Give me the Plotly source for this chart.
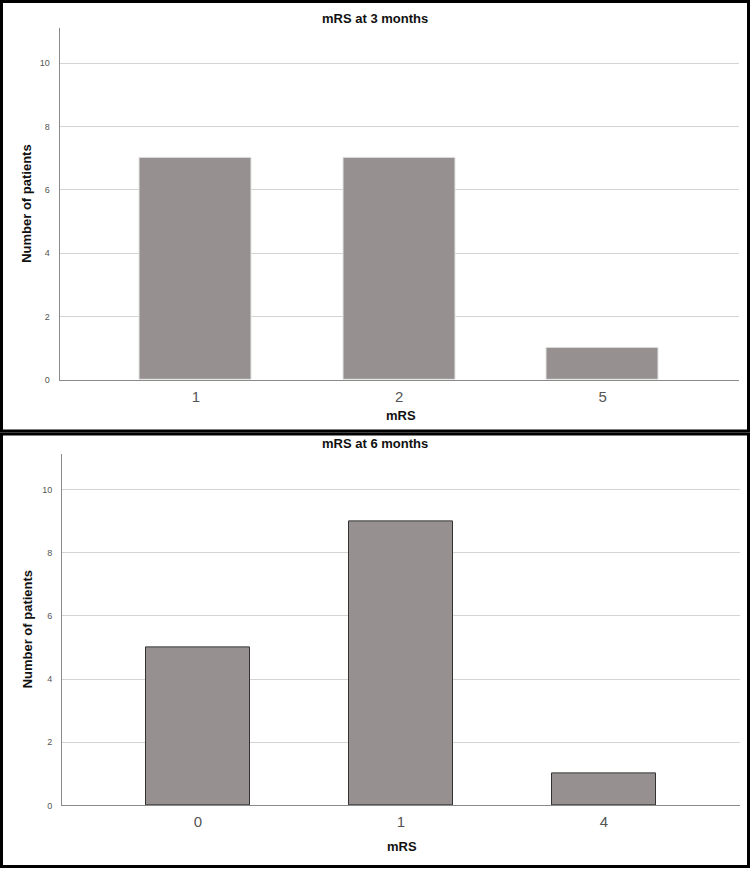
import plotly.graph_objects as go

W, H = 750, 873

cats_3m = ["1", "2", "5"]
vals_3m = [7, 7, 1]
cats_6m = ["0", "1", "4"]
vals_6m = [5, 9, 1]
y_ticks = [0, 2, 4, 6, 8, 10]

bar_color = "#969190"

def px_x(p):
    return p / W

def px_y(p):
    return 1 - p / H

fig = go.Figure()
fig.add_trace(go.Bar(x=cats_3m, y=vals_3m, xaxis="x", yaxis="y", width=0.55,
                     marker=dict(color=bar_color, line=dict(color="#e4e4e4", width=1)),
                     showlegend=False))
fig.add_trace(go.Bar(x=cats_6m, y=vals_6m, xaxis="x2", yaxis="y2", width=0.51,
                     marker=dict(color=bar_color, line=dict(color="#333333", width=1)),
                     showlegend=False))

axis_common_y = dict(range=[0, 11.12], tickvals=y_ticks, showgrid=True, gridcolor="#d4d4d4",
                     gridwidth=1, showline=True, linecolor="#8a8a8a", linewidth=1,
                     zeroline=False, ticks="",
                     tickfont=dict(family="Liberation Sans Narrow, Liberation Sans", size=9, color="#555"),
                     ticklabelstandoff=7)
axis_common_x = dict(range=[-0.67, 2.67], type="category", showline=True, linecolor="#8a8a8a",
                     linewidth=1, showgrid=False, ticks="", ticklabelstandoff=3,
                     tickfont=dict(family="Liberation Sans Narrow, Liberation Sans", size=15, color="#555"))

fig.update_layout(
    width=W, height=H, margin=dict(l=0, r=0, t=0, b=0),
    paper_bgcolor="white", plot_bgcolor="white", bargap=0,
    xaxis=dict(domain=[px_x(59.5), px_x(739)], anchor="y", **axis_common_x),
    yaxis=dict(domain=[px_y(382), px_y(28)], anchor="x", **axis_common_y),
    xaxis2=dict(domain=[px_x(62), px_x(740)], anchor="y2", **axis_common_x),
    yaxis2=dict(domain=[px_y(810), px_y(457)], anchor="x2", **axis_common_y),
)

title_font = dict(family="Liberation Sans Narrow, Liberation Sans", size=13, color="#111")
ann = []
for text, x, y, rot in [
    ("<b>mRS at 3 months</b>", 375, 19, 0),
    ("<b>mRS</b>", 401, 418, 0),
    ("<b>Number of patients</b>", 27, 205, -90),
    ("<b>mRS at 6 months</b>", 375, 446, 0),
    ("<b>mRS</b>", 402, 851, 0),
    ("<b>Number of patients</b>", 27, 633, -90),
]:
    ann.append(dict(text=text, x=px_x(x), y=px_y(y), xref="paper", yref="paper",
                    xanchor="center", yanchor="middle", showarrow=False,
                    textangle=rot, font=title_font))
fig.update_layout(annotations=ann)

fig.update_layout(shapes=[
    dict(type="rect", xref="paper", yref="paper", x0=px_x(1.5), x1=px_x(748.5),
         y0=px_y(433.5), y1=px_y(1.5), line=dict(color="black", width=3)),
    dict(type="rect", xref="paper", yref="paper", x0=px_x(1.5), x1=px_x(748.5),
         y0=px_y(871.5), y1=px_y(436.5), line=dict(color="black", width=3)),
])

fig.write_html("out.html")
